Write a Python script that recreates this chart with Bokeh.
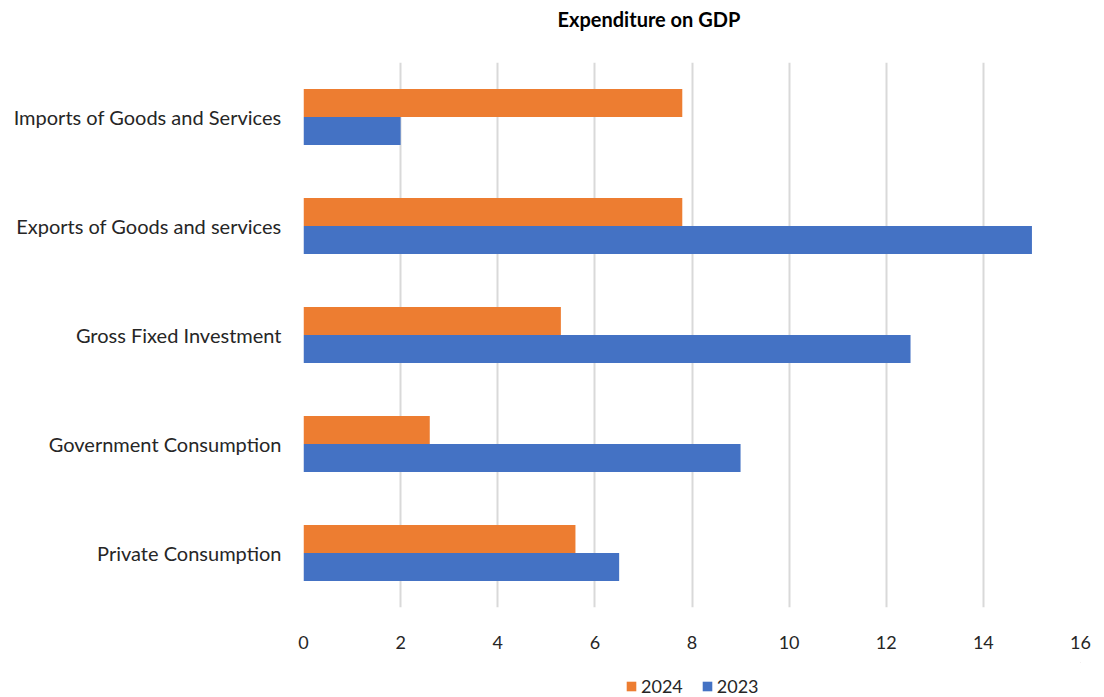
from bokeh.plotting import figure
from bokeh.layouts import column
from bokeh.models import FactorRange, Legend, LegendItem, ColumnDataSource, Range1d, FixedTicker, Label
from bokeh.transform import dodge
from bokeh.embed import file_html
from bokeh.resources import INLINE

categories = ["Private Consumption", "Government Consumption", "Gross Fixed Investment",
              "Exports of Goods and services", "Imports of Goods and Services"]
values_2023 = [6.5, 9.0, 12.5, 15.0, 2.0]
values_2024 = [5.6, 2.6, 5.3, 7.8, 7.8]
series_names = ["2024", "2023"]
x_ticks = [0, 2, 4, 6, 8, 10, 12, 14, 16]
title_text = "Expenditure on GDP"

FONT = "Lato"
TXT = "#262626"
C24 = "#ED7D31"
C23 = "#4472C4"

src = ColumnDataSource(dict(cat=categories, v23=values_2023, v24=values_2024))

# title strip
tt = figure(width=1104, height=36, x_range=Range1d(0, 1), y_range=Range1d(0, 1),
            output_backend="svg", toolbar_location=None, x_axis_location=None, y_axis_location=None,
            min_border=0)
tt.outline_line_color = None
tt.grid.visible = False
tt.add_layout(Label(x=254, y=18, x_units="screen", y_units="screen", text=title_text,
                    text_font=FONT, text_font_size="20px", text_font_style="bold",
                    text_color="#000000", text_baseline="middle", text_align="left"))

p = figure(frame_width=777, frame_height=545, y_range=FactorRange(*categories), x_range=Range1d(0, 16),
           output_backend="svg", toolbar_location=None,
           min_border_left=303, min_border_right=24, min_border_top=26, min_border_bottom=55)

p.hbar(y=dodge("cat", 0.128, range=p.y_range), right="v24", left=0, height=0.257,
       source=src, color=C24, line_color=None)
p.hbar(y=dodge("cat", -0.128, range=p.y_range), right="v23", left=0, height=0.257,
       source=src, color=C23, line_color=None)

p.outline_line_color = None
p.background_fill_color = "white"

p.xaxis.ticker = FixedTicker(ticks=x_ticks)
p.xaxis.axis_line_color = None
p.xaxis.major_tick_line_color = None
p.xaxis.minor_tick_line_color = None
p.xaxis.major_tick_out = 0
p.xaxis.minor_tick_out = 0
p.xaxis.major_label_standoff = 28
p.xaxis.major_label_text_font = FONT
p.xaxis.major_label_text_font_size = "18px"
p.xaxis.major_label_text_color = TXT

p.yaxis.axis_line_color = None
p.yaxis.major_tick_line_color = None
p.yaxis.minor_tick_line_color = None
p.yaxis.major_tick_out = 0
p.yaxis.minor_tick_out = 0
p.yaxis.major_label_standoff = 22
p.yaxis.major_label_text_font = FONT
p.yaxis.major_label_text_font_size = "20px"
p.yaxis.major_label_text_color = TXT

p.xgrid.grid_line_color = "#d9d9d9"
p.xgrid.grid_line_width = 2
p.ygrid.grid_line_color = None

# legend strip below the chart
lg = figure(width=1104, height=35, x_range=Range1d(0, 1), y_range=Range1d(0, 1),
            output_backend="svg", toolbar_location=None, x_axis_location=None, y_axis_location=None,
            min_border=0)
lg.outline_line_color = None
lg.grid.visible = False
# legend proxies kept outside the visible range
g24 = lg.hbar(y=[10], left=[10], right=[11], height=0.5, color=C24, line_color=None)
g23 = lg.hbar(y=[10], left=[10], right=[11], height=0.5, color=C23, line_color=None)
legend = Legend(items=[LegendItem(label=series_names[0], renderers=[g24]),
                       LegendItem(label=series_names[1], renderers=[g23])],
                orientation="horizontal", location=(322, 0),
                label_text_font=FONT, label_text_font_size="18px", label_text_color=TXT,
                glyph_width=12, glyph_height=12, spacing=18, label_standoff=4,
                border_line_color=None, background_fill_alpha=0, padding=0, margin=0)
lg.add_layout(legend, "center")

layout = column(tt, p, lg, spacing=0)
open("out.html", "w").write(file_html(layout, INLINE))
